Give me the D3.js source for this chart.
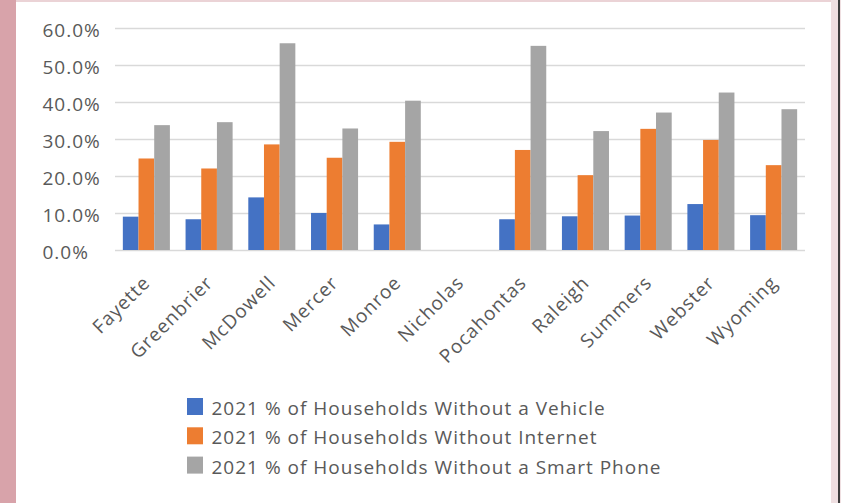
<!DOCTYPE html>
<html>
<head>
<meta charset="utf-8">
<script src="https://cdn.jsdelivr.net/npm/d3@7"></script>
<style>
  html, body { margin: 0; padding: 0; background: #fff; }
  svg { display: block; }
  text { font-family: "Open Sans", sans-serif; fill: #595959; }
</style>
</head>
<body>
<div id="chart"></div>
<script>
var counties = ["Fayette", "Greenbrier", "McDowell", "Mercer", "Monroe", "Nicholas",
    "Pocahontas", "Raleigh", "Summers", "Webster", "Wyoming"];

var seriesNames = [
    "2021 % of Households Without a Vehicle",
    "2021 % of Households Without Internet",
    "2021 % of Households Without a Smart Phone"
];

// null = no data (Nicholas)
var noVehicle    = [0.090, 0.083, 0.142, 0.100, 0.069, null, 0.083, 0.091, 0.093, 0.124, 0.094];
var noInternet   = [0.247, 0.220, 0.285, 0.249, 0.292, null, 0.270, 0.202, 0.327, 0.297, 0.229];
var noSmartPhone = [0.337, 0.345, 0.558, 0.328, 0.403, null, 0.551, 0.321, 0.371, 0.425, 0.380];

var yTicks = [0, 0.1, 0.2, 0.3, 0.4, 0.5, 0.6];
var colors = ["#4472c4", "#ed7d31", "#a5a5a5"];

var width = 841, height = 503;
var svg = d3.select("#chart").append("svg")
    .attr("width", width)
    .attr("height", height);

// frame around the white chart area
svg.append("rect").attr("x", 0).attr("y", 0).attr("width", width).attr("height", height).attr("fill", "#ebd3d6");
svg.append("rect").attr("x", 0).attr("y", 0).attr("width", 16).attr("height", height).attr("fill", "#d8a3aa");
svg.append("rect").attr("x", 831).attr("y", 0).attr("width", 10).attr("height", height).attr("fill", "#efdfe1");
svg.append("rect").attr("x", 838).attr("y", 0).attr("width", 2).attr("height", height).attr("fill", "#3d3d3d");
svg.append("rect").attr("x", 16).attr("y", 2).attr("width", 815).attr("height", height - 2).attr("fill", "#fff");

// gap between clusters = one bar width
var x0 = d3.scaleBand().domain(counties).range([115, 805]);
var x1 = d3.scaleBand().domain([0, 1, 2]).range([0, x0.bandwidth()]).paddingOuter(0.5);
var y = d3.scaleLinear().domain([0, 0.6]).range([250, 27.7]);

// gridlines
svg.append("g").selectAll("line")
    .data(yTicks)
    .join("line")
    .attr("x1", 115).attr("x2", 805)
    .attr("y1", function(d) { return Math.round(y(d)) + 0.5; })
    .attr("y2", function(d) { return Math.round(y(d)) + 0.5; })
    .attr("stroke", "#d9d9d9")
    .attr("stroke-width", 1.3);

// y tick labels (left aligned as in the source)
svg.append("g").selectAll("text")
    .data(yTicks)
    .join("text")
    .attr("x", 42.5)
    .attr("y", function(d) { return y(d) + 8.8; })
    .attr("font-size", "19px")
    .attr("letter-spacing", "1px")
    .text(d3.format(".1%"));

var allSeries = [noVehicle, noInternet, noSmartPhone];

var groups = svg.append("g").selectAll("g")
    .data(counties)
    .join("g")
    .attr("transform", function(d) { return "translate(" + x0(d) + ",0)"; });

groups.selectAll("rect")
    .data(function(d, i) {
        return allSeries.map(function(s, k) { return { k: k, v: s[i] }; })
            .filter(function(e) { return e.v != null; });
    })
    .join("rect")
    .attr("x", function(d) { return x1(d.k); })
    .attr("width", x1.bandwidth())
    .attr("y", function(d) { return y(d.v); })
    .attr("height", function(d) { return y(0) - y(d.v); })
    .attr("fill", function(d) { return colors[d.k]; });

// category labels, rotated -45
svg.append("g").selectAll("text")
    .data(counties)
    .join("text")
    .attr("transform", function(d) {
        return "translate(" + (x0(d) + x0.bandwidth() / 2 + 5) + ",284) rotate(-45)";
    })
    .attr("text-anchor", "end")
    .attr("font-size", "19px")
    .attr("letter-spacing", "1px")
    .text(function(d) { return d; });

// legend
var legend = svg.append("g").selectAll("g")
    .data(seriesNames)
    .join("g")
    .attr("transform", function(d, i) { return "translate(187," + (415 + i * 29.3) + ")"; });

legend.append("rect")
    .attr("x", 0).attr("y", -17)
    .attr("width", 16).attr("height", 17)
    .attr("fill", function(d, i) { return colors[i]; });

legend.append("text")
    .attr("x", 24.5).attr("y", 0)
    .attr("font-size", "19px")
    .attr("letter-spacing", "1px")
    .text(function(d) { return d; });
</script>
</body>
</html>
